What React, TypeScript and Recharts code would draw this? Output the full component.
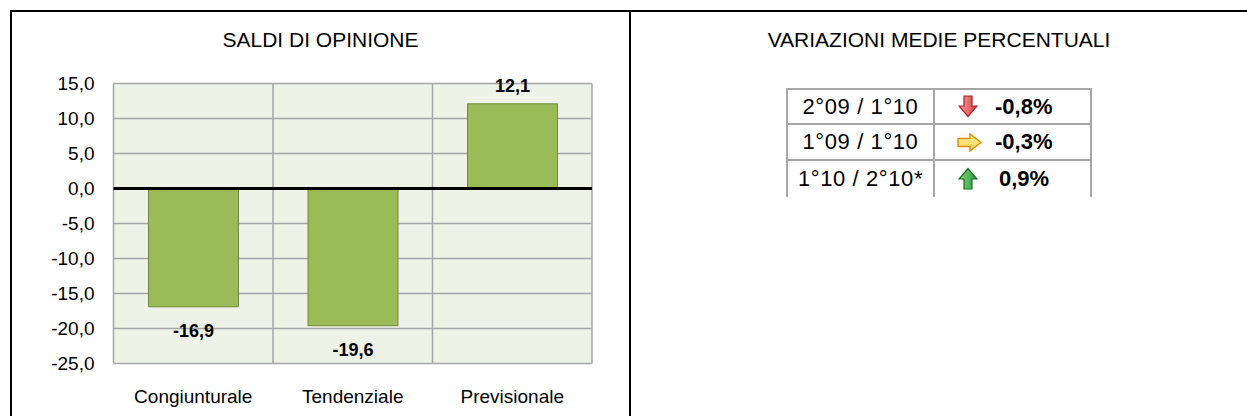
import React from 'react';
import { BarChart, Bar, XAxis, YAxis, CartesianGrid, ReferenceLine, LabelList } from 'recharts';

const categories = ['Congiunturale', 'Tendenziale', 'Previsionale'];
const saldi = [-16.9, -19.6, 12.1];
const yTicks = [-25, -20, -15, -10, -5, 0, 5, 10, 15];

const periodLabels = ['2°09 / 1°10', '1°09 / 1°10', '1°10 / 2°10*'];
const variations = [-0.8, -0.3, 0.9];
const trends = ['down', 'flat', 'up'];

const data = categories.map((c, i) => ({ name: c, value: saldi[i] }));

const FONT = '"Liberation Sans", Arial, Helvetica, sans-serif';
const fmt = (v: number) => v.toFixed(1).replace('.', ',');
const fmtPct = (v: number) => v.toFixed(1).replace('.', ',') + '%';

const BarLabel = (props: any) => {
  const { x, y, width, height, value } = props;
  const top = Math.min(y, y + height);
  const bottom = Math.max(y, y + height);
  const cx = x + width / 2;
  const cy = value >= 0 ? top - 18 : bottom + 24;
  return (
    <text x={cx} y={cy} textAnchor="middle" dominantBaseline="central" fontFamily={FONT} fontSize={18} fontWeight="bold" fill="#000">
      {fmt(value)}
    </text>
  );
};

const Arrow = ({ kind }: { kind: string }) => {
  if (kind === 'down') {
    return (
      <svg width={20} height={23} style={{ display: 'block' }}>
        <defs>
          <linearGradient id="gd" x1="0" y1="0" x2="1" y2="0">
            <stop offset="0" stopColor="#f7a3a3" />
            <stop offset="1" stopColor="#d83b3b" />
          </linearGradient>
        </defs>
        <polygon points="6,1 14,1 14,11 19,11 10,21.5 1,11 6,11" fill="url(#gd)" stroke="#a52424" strokeWidth={1.2} />
      </svg>
    );
  }
  if (kind === 'up') {
    return (
      <svg width={20} height={23} style={{ display: 'block' }}>
        <defs>
          <linearGradient id="gu" x1="0" y1="0" x2="1" y2="0">
            <stop offset="0" stopColor="#7fd27f" />
            <stop offset="1" stopColor="#2e9a3a" />
          </linearGradient>
        </defs>
        <polygon points="6,22 14,22 14,12 19,12 10,1.5 1,12 6,12" fill="url(#gu)" stroke="#1d6b25" strokeWidth={1.2} />
      </svg>
    );
  }
  return (
    <svg width={25} height={19} style={{ display: 'block' }}>
      <defs>
        <linearGradient id="gf" x1="0" y1="0" x2="0" y2="1">
          <stop offset="0" stopColor="#fff2a8" />
          <stop offset="1" stopColor="#ffd24a" />
        </linearGradient>
      </defs>
      <polygon points="1,5.5 13,5.5 13,1 24,9.5 13,18 13,13.5 1,13.5" fill="url(#gf)" stroke="#e38b00" strokeWidth={1.4} />
    </svg>
  );
};

const rowTops = [89, 124, 160];
const rowBottom = 197;
const gridGray = '#a6a6a6';

export default function App() {
  return (
    <div style={{ position: 'absolute', left: 0, top: 0, width: 1247, height: 416, background: '#fff', overflow: 'hidden', fontFamily: FONT }}>
      {/* frame */}
      <div style={{ position: 'absolute', left: 10, top: 10, width: 1237, height: 2, background: '#000' }} />
      <div style={{ position: 'absolute', left: 10, top: 10, width: 2, height: 406, background: '#000' }} />
      <div style={{ position: 'absolute', left: 629, top: 10, width: 2, height: 406, background: '#000' }} />

      {/* left title */}
      <div style={{ position: 'absolute', left: 12, width: 617, top: 28, textAlign: 'center', fontSize: 21, lineHeight: '24px', color: '#000' }}>
        SALDI DI OPINIONE
      </div>

      <div style={{ position: 'absolute', left: 0, top: 0 }}>
        <BarChart width={630} height={416} data={data} margin={{ top: 83.5, right: 38, bottom: 0, left: 0 }}>
          <CartesianGrid
            fill="#eef2e7"
            stroke={gridGray}
            strokeWidth={1.5}
            horizontal={true}
            vertical={true}
            verticalCoordinatesGenerator={({ offset }: any) => [
              offset.left,
              offset.left + offset.width / 3,
              offset.left + (2 * offset.width) / 3,
              offset.left + offset.width,
            ]}
          />
          <XAxis
            dataKey="name"
            axisLine={false}
            tickLine={false}
            height={52.5}
            tickMargin={20}
            tick={{ fontFamily: FONT, fontSize: 19, fill: '#000' }}
          />
          <YAxis
            domain={[-25, 15]}
            ticks={yTicks}
            interval={0}
            width={113.5}
            axisLine={false}
            tickLine={false}
            tickMargin={13}
            tickFormatter={fmt}
            tick={{ fontFamily: FONT, fontSize: 19, fill: '#000' }}
          />
          <Bar dataKey="value" fill="#9bbb59" stroke="#71893c" strokeWidth={1} barSize={90} isAnimationActive={false}>
            <LabelList dataKey="value" content={BarLabel} />
          </Bar>
          <ReferenceLine y={0} stroke="#000" strokeWidth={3} />
        </BarChart>
      </div>

      {/* right title */}
      <div style={{ position: 'absolute', left: 631, width: 616, top: 28, textAlign: 'center', fontSize: 21, lineHeight: '24px', color: '#000' }}>
        VARIAZIONI MEDIE PERCENTUALI
      </div>

      {/* table */}
      {rowTops.map((t, i) => (
        <div key={'h' + i} style={{ position: 'absolute', left: 786, top: t - 1, width: 306, height: 2, background: gridGray }} />
      ))}
      {[786, 933, 1090].map((x, i) => (
        <div key={'v' + i} style={{ position: 'absolute', left: x, top: 88, width: 2, height: rowBottom - 88, background: gridGray }} />
      ))}
      {periodLabels.map((lab, i) => {
        const t = rowTops[i];
        const b = i < 2 ? rowTops[i + 1] : rowBottom;
        return (
          <React.Fragment key={'r' + i}>
            <div style={{ position: 'absolute', left: 788, width: 145, top: t, height: b - t, display: 'flex', alignItems: 'center', justifyContent: 'center', fontSize: 22, color: '#000', whiteSpace: 'nowrap', letterSpacing: 0.6 }}>
              {lab}
            </div>
            <div style={{ position: 'absolute', left: trends[i] === 'flat' ? 957 : 958, top: t, height: b - t, display: 'flex', alignItems: 'center' }}>
              <Arrow kind={trends[i]} />
            </div>
            <div style={{ position: 'absolute', left: variations[i] < 0 ? 995 : 999, top: t, height: b - t, display: 'flex', alignItems: 'center', fontSize: 22, fontWeight: 'bold', color: '#000', whiteSpace: 'nowrap' }}>
              {fmtPct(variations[i])}
            </div>
          </React.Fragment>
        );
      })}
    </div>
  );
}
